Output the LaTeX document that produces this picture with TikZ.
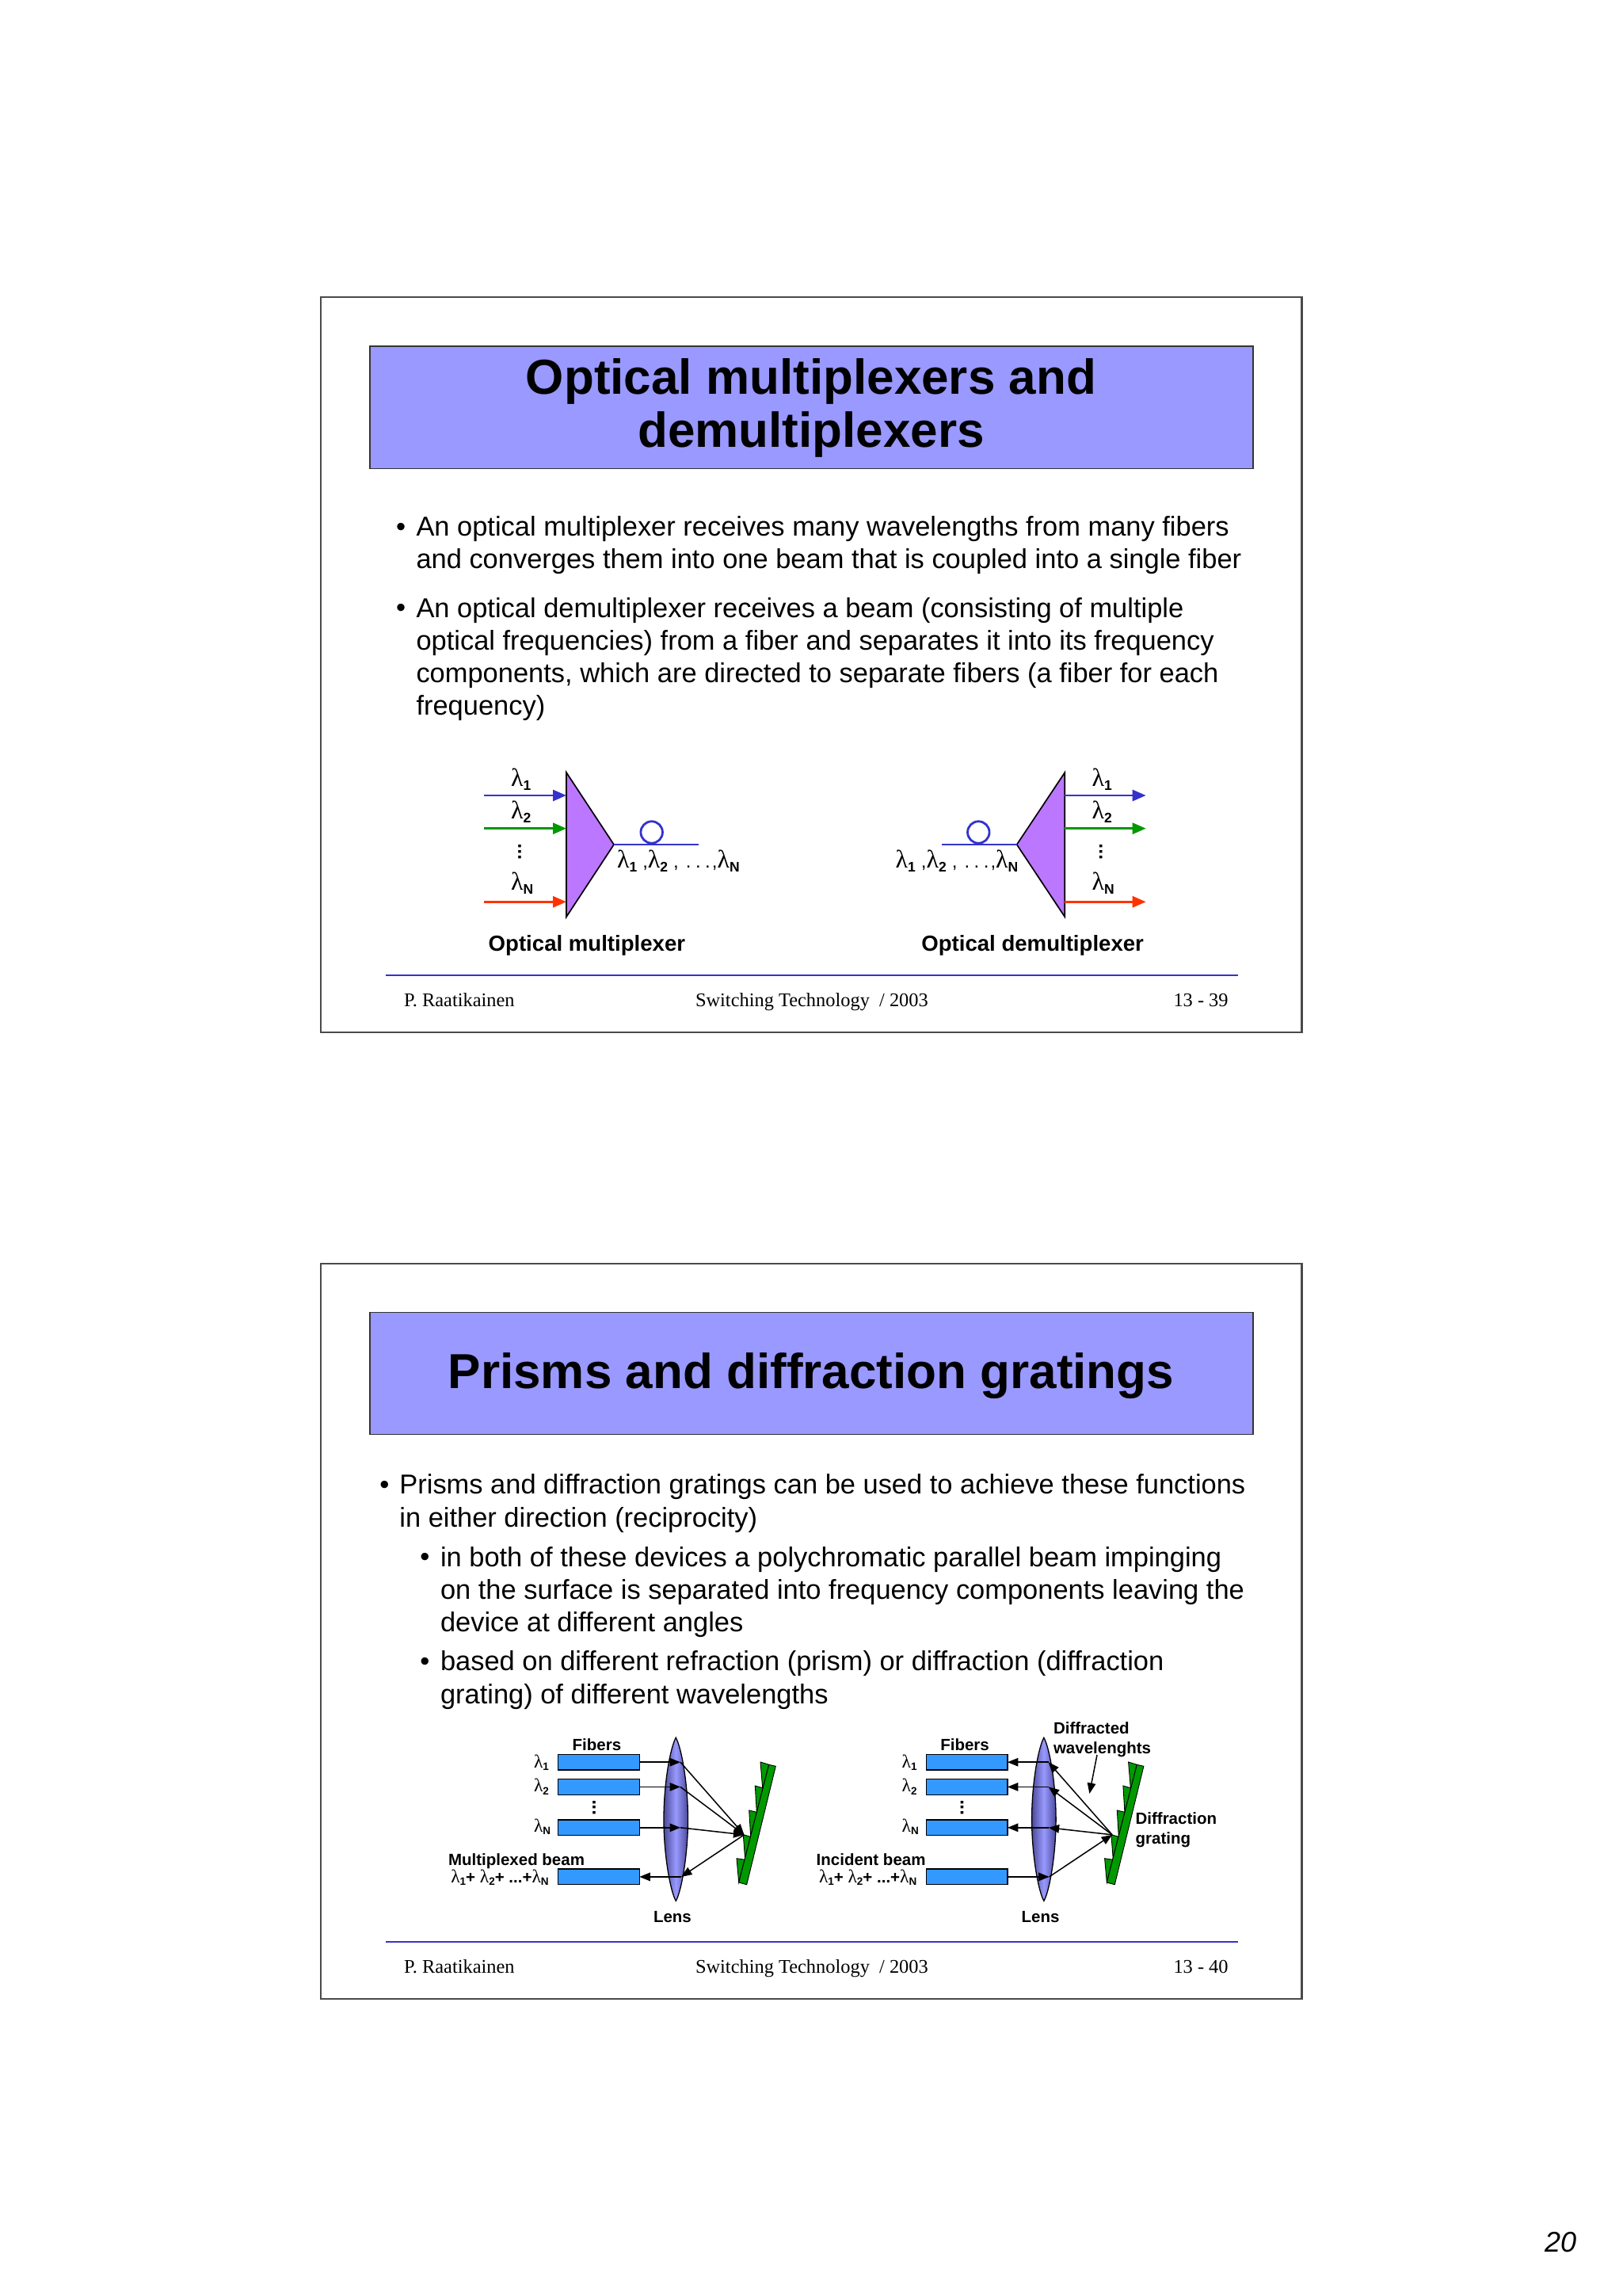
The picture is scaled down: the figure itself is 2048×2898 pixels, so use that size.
\documentclass[tikz,border=0pt]{standalone}
\usepackage{fontspec}
\setmainfont{Liberation Sans}
\newfontfamily\serifface{Liberation Serif}
\usetikzlibrary{arrows.meta}
\definecolor{slideblue}{HTML}{9999FF}
\definecolor{frameline}{HTML}{4A4A4A}
\definecolor{ruleblue}{HTML}{3333CC}
\definecolor{lineblue}{HTML}{3333CC}
\definecolor{linegreen}{HTML}{009900}
\definecolor{linered}{HTML}{FF3300}
\definecolor{prismfill}{HTML}{BB77FF}
\definecolor{fiberfill}{HTML}{3399FF}
\definecolor{lensedge}{HTML}{4A4A99}
\newcommand\lamA[1]{{\serifface\fontsize{32}{32}\selectfont λ}\raisebox{-5pt}{\bfseries\fontsize{17.5}{18}\selectfont #1}}
\newcommand\lamB[1]{{\serifface\fontsize{23.5}{24}\selectfont λ}\raisebox{-3.5pt}{\bfseries\fontsize{13.5}{14}\selectfont #1}}
\newcommand\vdotsmark{\rotatebox{90}{\bfseries\fontsize{24}{24}\selectfont ...}}
\newcommand\lamseries{\lamA{1}\hspace{7pt}{\fontsize{24}{24}\selectfont,}\lamA{2}\hspace{7pt}{\fontsize{24}{24}\selectfont,\hspace{9pt}.\hspace{5.5pt}.\hspace{5.5pt}.\hspace{2pt},}\lamA{N}}
\newcommand\lamsum{\lamB{1}{\bfseries\fontsize{20.5}{20.5}\selectfont+ }\lamB{2}{\bfseries\fontsize{20.5}{20.5}\selectfont+ ...+}\lamB{N}}
\tikzset{
  x=1pt,y=-1pt,
  every node/.style={inner sep=0pt,outer sep=0pt},
  slideframe/.style={draw=frameline,line width=2.2pt,fill=white},
  titlebox/.style={draw=black!80,line width=1.6pt,fill=slideblue},
  titletext/.style={font=\bfseries\fontsize{62}{66.6}\selectfont,align=center,anchor=center,text=black},
  bodytext/.style={font=\fontsize{34.45}{41}\selectfont,anchor=base west},
  rulestyle/.style={draw=ruleblue,line width=2.4pt},
  foot/.style={font=\serifface\fontsize{24.4}{24.4}\selectfont,anchor=base west},
  lamlabel/.style={anchor=base west},
  capt/.style={font=\bfseries\fontsize{27.6}{27.6}\selectfont,anchor=base west},
  small/.style={font=\bfseries\fontsize{20.5}{25}\selectfont,anchor=base west},
  prism/.style={draw=black,line width=1.7pt,fill=prismfill},
  colarrow/.style={line width=2.8pt,-{Triangle[length=17pt,width=14pt]}},
  fibline/.style={draw=lineblue,line width=2.8pt},
  fibloop/.style={circle,draw=lineblue,line width=2.8pt,minimum size=27.5pt},
  fiberbox/.style={draw=black,line width=1.4pt,fill=fiberfill,minimum width=102.6pt,minimum height=19.7pt},
  beam/.style={draw=black,line width=1.5pt},
  towardhead/.style={beam,-{Triangle[length=13.5pt,width=10.5pt]}},
  backhead/.style={beam,{Triangle[length=13.5pt,width=10.5pt]}-},
  gratefill/.style={draw=black,line width=0.9pt,fill=linegreen},
}
\newcommand\lines[2]{\vbox{\baselineskip=#1pt #2}}
% #1 name prefix, #2 x shift, #3 head style of the upper beams, #4 head style of the lower beam
\newcommand\GratingDiagram[4]{%
\begin{scope}[shift={(#2,0)}]
  \node[fiberbox] (#1f1) at (756,2224.2) {};
  \node[fiberbox] (#1f2) at (756,2255.4) {};
  \node[fiberbox] (#1f3) at (756,2306.8) {};
  \node[fiberbox] (#1f4) at (756,2368.9) {};
  \path[draw=black,line width=1.3pt,left color=lensedge,right color=lensedge,middle color=slideblue]
    (853.3,2193.3) .. controls (860,2205) and (868.5,2250) .. (868.5,2296.3)
    .. controls (868.5,2342) and (860,2388) .. (853.3,2399.3)
    .. controls (846.5,2388) and (838,2342) .. (838,2296.3)
    .. controls (838,2250) and (846.5,2205) .. (853.3,2193.3) -- cycle;
  \filldraw[gratefill] (932.7,2376) -- (930,2345.7) -- (940.7,2347.3) -- (938.3,2315.7) -- (947.7,2318.3)
    -- (945.7,2285) -- (955.3,2287.3) -- (953.3,2254) -- (962.7,2256.7) -- (960,2224) -- (970.7,2227.3) -- cycle;
  \filldraw[gratefill] (970.7,2227.3) -- (979.3,2229.3) -- (942.7,2378.7) -- (932.7,2376) -- cycle;
  \coordinate (#1g) at (939.5,2315.8);
  \coordinate (#1l1) at (859,2224.2);
  \coordinate (#1l2) at (859,2255.4);
  \coordinate (#1l3) at (859,2306.8);
  \coordinate (#1l4) at (860,2368.9);
  \draw[#3] (#1f1.east) -- (#1l1);
  \draw[#3] (#1f2.east) -- (#1l2);
  \draw[#3] (#1f3.east) -- (#1l3);
  \draw[#3] (#1l1) -- (#1g);
  \draw[#3] (#1l2) -- (#1g);
  \draw[#3] (#1l3) -- (#1g);
  \draw[#4] (#1f4.east) -- (#1l4);
  \draw[#4] (#1l4) -- (#1g);
  \node[small] (#1fib) at (722.7,2209) {Fibers};
  \node[lamlabel] (#1a) at (674,2231) {\lamB{1}};
  \node[lamlabel] (#1b) at (674,2261.7) {\lamB{2}};
  \node[lamlabel] (#1c) at (674,2312) {\lamB{N}};
  \node[anchor=center] (#1d) at (750,2281.5) {\vdotsmark};
  \node[small] (#1lens) at (825,2426) {Lens};
\end{scope}}
\begin{document}
\begin{tikzpicture}
\useasboundingbox[fill=white] (0,0) rectangle (2048,2898);
% ---------- slide 39
\node[slideframe,minimum width=1238.7pt,minimum height=928pt,anchor=north west] (frameA) at (404.8,375) {};
\node[titlebox,minimum width=1115pt,minimum height=154.4pt,anchor=north west] (titleA) at (466.7,437) {};
\node[titletext] (titleAt) at (1024,514.8) {Optical multiplexers and\\demultiplexers};
\node[bodytext] (bu1) at (500,676) {•};
\node[bodytext] (p1) at (525.5,717.5) {\lines{41}{\hbox{An optical multiplexer receives many wavelengths from many fibers}\hbox{and converges them into one beam that is coupled into a single fiber}}};
\node[bodytext] (bu2) at (500,778.6) {•};
\node[bodytext] (p2) at (525.5,902) {\lines{41}{\hbox{An optical demultiplexer receives a beam (consisting of multiple}\hbox{optical frequencies) from a fiber and separates it into its frequency}\hbox{components, which are directed to separate fibers (a fiber for each}\hbox{frequency)}}};
% multiplexer
\filldraw[prism] (715,975) coordinate (mT) -- (775,1066) coordinate (mO) -- (715,1157.3) coordinate (mB) -- cycle;
\coordinate (ma1) at (611,1004); \coordinate (mb1) at (715,1004);
\coordinate (ma2) at (611,1045.7); \coordinate (mb2) at (715,1045.7);
\coordinate (ma3) at (611,1138.3); \coordinate (mb3) at (715,1138.3);
\draw[colarrow,lineblue] (ma1) -- (mb1);
\draw[colarrow,linegreen] (ma2) -- (mb2);
\draw[colarrow,linered] (ma3) -- (mb3);
\coordinate (mf) at (881.7,1066);
\draw[fibline] (mO) -- (mf);
\node[fibloop] (ml) at (822.7,1050.5) {};
\node[lamlabel] (mL1) at (645,992) {\lamA{1}};
\node[lamlabel] (mL2) at (645,1033) {\lamA{2}};
\node[anchor=center] (mLd) at (656,1075) {\vdotsmark};
\node[lamlabel] (mL3) at (645,1123) {\lamA{N}};
\node[lamlabel] (mLs) at (779,1095.7) {\lamseries};
\node[capt] (mC) at (616.7,1200) {Optical multiplexer};
% demultiplexer
\filldraw[prism] (1344.3,975) coordinate (dT) -- (1283.7,1066) coordinate (dO) -- (1344.3,1157.3) coordinate (dB) -- cycle;
\coordinate (da1) at (1344.3,1004); \coordinate (db1) at (1446.7,1004);
\coordinate (da2) at (1344.3,1045.7); \coordinate (db2) at (1446.7,1045.7);
\coordinate (da3) at (1344.3,1138.3); \coordinate (db3) at (1446.7,1138.3);
\draw[colarrow,lineblue] (da1) -- (db1);
\draw[colarrow,linegreen] (da2) -- (db2);
\draw[colarrow,linered] (da3) -- (db3);
\coordinate (df) at (1189,1066);
\draw[fibline] (df) -- (dO);
\node[fibloop] (dl) at (1235.3,1050.5) {};
\node[lamlabel] (dL1) at (1378.5,992) {\lamA{1}};
\node[lamlabel] (dL2) at (1378.5,1033) {\lamA{2}};
\node[anchor=center] (dLd) at (1389.7,1075) {\vdotsmark};
\node[lamlabel] (dL3) at (1378.5,1123) {\lamA{N}};
\node[lamlabel] (dLs) at (1130.7,1095.7) {\lamseries};
\node[capt] (dC) at (1163.3,1200) {Optical demultiplexer};
% footer
\coordinate (ruleAa) at (487,1231); \coordinate (ruleAb) at (1563,1231);
\draw[rulestyle] (ruleAa) -- (ruleAb);
\node[foot] (fa1) at (510,1270) {P. Raatikainen};
\node[foot] (fa2) at (878,1270) {Switching Technology\ \ / 2003};
\node[foot] (fa3) at (1481.5,1270) {13 - 39};
% ---------- slide 40
\node[slideframe,minimum width=1238.7pt,minimum height=928pt,anchor=north west] (frameB) at (404.8,1595) {};
\node[titlebox,minimum width=1115pt,minimum height=154.2pt,anchor=north west] (titleB) at (466.7,1656.4) {};
\node[titletext,anchor=base] (titleBt) at (1024,1752) {Prisms and diffraction gratings};
\node[bodytext] (bu3) at (479.4,1885.8) {•};
\node[bodytext] (p3) at (504.4,1927) {\lines{41.2}{\hbox{Prisms and diffraction gratings can be used to achieve these functions}\hbox{in either direction (reciprocity)}}};
\node[bodytext] (bu4) at (530.4,1976.7) {•};
\node[bodytext] (p4) at (556,2059.4) {\lines{41.2}{\hbox{in both of these devices a polychromatic parallel beam impinging}\hbox{on the surface is separated into frequency components leaving the}\hbox{device at different angles}}};
\node[bodytext] (bu5) at (530.4,2108.8) {•};
\node[bodytext] (p5) at (556,2150) {\lines{41.2}{\hbox{based on different refraction (prism) or diffraction (diffraction}\hbox{grating) of different wavelengths}}};
\GratingDiagram{u}{0}{towardhead}{backhead}
\GratingDiagram{v}{464.6}{backhead}{towardhead}
\node[small] (uMb) at (566,2354) {Multiplexed beam};
\node[lamlabel] (uSum) at (569.3,2376) {\lamsum};
\node[small] (vIb) at (1030.7,2354) {Incident beam};
\node[lamlabel] (vSum) at (1034,2376) {\lamsum};
\node[small] (vDw) at (1330,2213) {\lines{25}{\hbox{Diffracted}\hbox{wavelenghts}}};
\coordinate (wa) at (1385,2215); \coordinate (wb) at (1375.4,2264);
\draw[towardhead] (wa) -- (wb);
\node[small] (vDg) at (1433.6,2327) {\lines{24.5}{\hbox{Diffraction}\hbox{grating}}};
\coordinate (ruleBa) at (487,2451); \coordinate (ruleBb) at (1563,2451);
\draw[rulestyle] (ruleBa) -- (ruleBb);
\node[foot] (fb1) at (510,2490) {P. Raatikainen};
\node[foot] (fb2) at (878,2490) {Switching Technology\ \ / 2003};
\node[foot] (fb3) at (1481.5,2490) {13 - 40};
\node[font=\itshape\fontsize{36}{36}\selectfont,anchor=base west] (page) at (1950,2842.7) {20};
\end{tikzpicture}
\end{document}
